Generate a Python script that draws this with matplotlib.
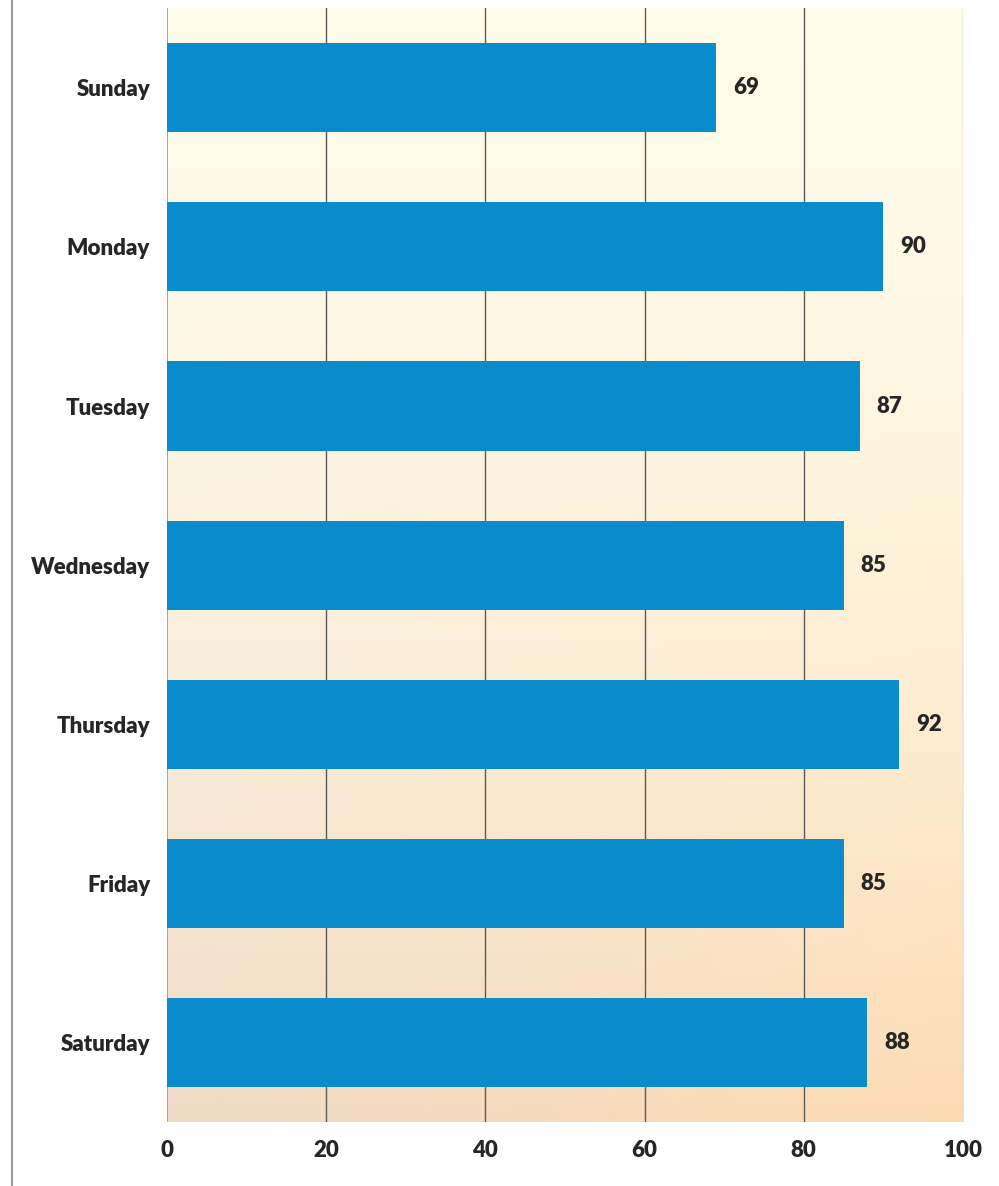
#!/usr/bin/env python3

import numpy as np
import matplotlib
matplotlib.use('Agg')
import matplotlib.pyplot as plt
from matplotlib.lines import Line2D

days = ['Sunday', 'Monday', 'Tuesday', 'Wednesday', 'Thursday', 'Friday', 'Saturday']
values = [69, 90, 87, 85, 92, 85, 88]
xticks = [0, 20, 40, 60, 80, 100]

plt.rcParams['font.family'] = ['Lato', 'DejaVu Sans']

fig = plt.figure(figsize=(9.99, 11.86), dpi=100)
ax = fig.add_axes([0.167, 0.054, 0.797, 0.939])

# warm background: pale yellow at the top fading to peach at the bottom
ny, nx = 200, 50
yy = np.linspace(0, 1, ny)[:, None]
xx = np.linspace(0, 1, nx)[None, :]
top = np.array([1.0, 0.985, 0.915])
bottom_left = np.array([0.94, 0.86, 0.78])
bottom_right = np.array([0.99, 0.86, 0.70])
bottom = bottom_left + (bottom_right - bottom_left) * xx[..., None]
t = (yy ** 1.7)[..., None]
bg = top * (1 - t) + bottom * t
ax.imshow(bg, extent=(0, 100, 6.5, -0.5), aspect='auto', zorder=0, interpolation='bilinear')

y = np.arange(len(days))
ax.barh(y, values, height=0.56, color='#0a8bcb', zorder=3)

for yi, v in zip(y, values):
    ax.annotate(str(v), xy=(v, yi), xytext=(12, 0), textcoords='offset points',
                va='center', ha='left', fontsize=16, fontweight='heavy', color='#262626')

ax.set_xlim(0, 100)
ax.set_ylim(6.5, -0.5)
ax.set_xticks(xticks)
ax.set_yticks(y)
ax.set_yticklabels(days)

for x in [20, 40, 60, 80]:
    ax.axvline(x, color='#5a5a5a', lw=1.0, zorder=1)
ax.axvline(0, color='#999999', lw=1.2, zorder=1)
ax.axvline(100, color='#c4c4c4', lw=1.0, zorder=1)

for s in ax.spines.values():
    s.set_visible(False)

ax.tick_params(axis='both', length=0, labelsize=16, labelcolor='#262626')
ax.tick_params(axis='x', pad=13)
ax.tick_params(axis='y', pad=12)
for lab in ax.get_xticklabels() + ax.get_yticklabels():
    lab.set_fontweight('heavy')

# thin page edge on the left
fig.add_artist(Line2D([0.012, 0.012], [0.0, 1.0], transform=fig.transFigure,
                      color='#9a9a9a', lw=1.5))

fig.savefig('out.png', dpi=100)
